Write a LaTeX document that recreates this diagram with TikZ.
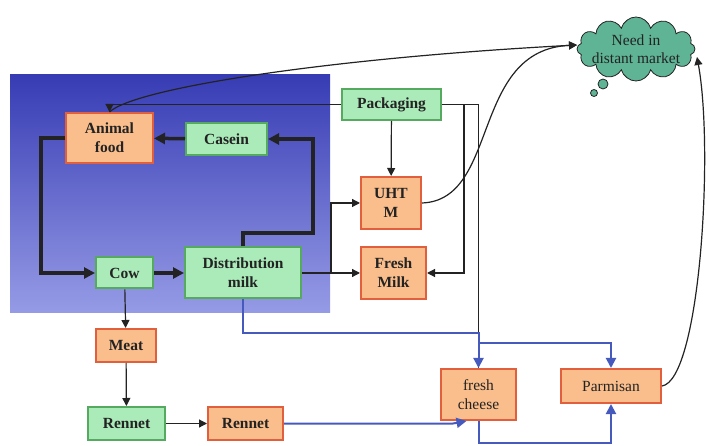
\documentclass[tikz,border=0pt]{standalone}
\usepackage{fontspec}
\setmainfont{Liberation Serif}
\usetikzlibrary{arrows.meta,shapes.symbols}
\definecolor{boxOrange}{RGB}{250,190,140}
\definecolor{boxOrangeLine}{RGB}{225,95,60}
\definecolor{boxGreen}{RGB}{170,235,185}
\definecolor{boxGreenLine}{RGB}{85,170,95}
\definecolor{panelTop}{RGB}{55,60,180}
\definecolor{panelBottom}{RGB}{150,155,230}
\definecolor{flowBlue}{RGB}{70,90,190}
\definecolor{cloudTeal}{RGB}{95,180,150}
\definecolor{ink}{RGB}{35,35,35}
\begin{document}
\begin{tikzpicture}[x=1pt,y=-1pt,
  basebox/.style={draw,line width=2pt,inner sep=0pt,align=center,text=ink,
    font=\fontsize{15.5}{19}\selectfont},
  obox/.style={basebox,fill=boxOrange,draw=boxOrangeLine},
  gbox/.style={basebox,fill=boxGreen,draw=boxGreenLine,font=\fontsize{15.5}{19}\selectfont\bfseries},
  thickflow/.style={ink,line width=3.5pt,-{Triangle[length=11pt,width=11pt]}},
  thinflow/.style={ink,line width=1.2pt,-{Triangle[length=8pt,width=8pt]}},
  thinline/.style={ink,line width=1.2pt},
  blueflow/.style={flowBlue,line width=2pt,-{Triangle[length=10pt,width=10pt]}},
  blueline/.style={flowBlue,line width=2pt}]
\useasboundingbox (0,0) rectangle (707,446);
\shade[top color=panelTop,bottom color=panelBottom] (10,75) rectangle (330,313);
% boxes
\node[obox,font=\fontsize{15.5}{19}\selectfont\bfseries,minimum width=87pt,minimum height=50pt] (afood) at (109.5,138) {Animal\\food};
\node[gbox,minimum width=81pt,minimum height=32pt] (casein) at (226.5,139) {Casein};
\node[gbox,minimum width=99pt,minimum height=31pt] (pack) at (391.5,104.5) {Packaging};
\node[obox,font=\fontsize{15.5}{19}\selectfont\bfseries,minimum width=60pt,minimum height=52pt] (uht) at (391,203) {UHT\\M};
\node[obox,font=\fontsize{15.5}{19}\selectfont\bfseries,minimum width=65pt,minimum height=52pt] (fmilk) at (393.5,273) {Fresh\\Milk};
\node[gbox,minimum width=57pt,minimum height=31pt] (cow) at (124.5,273) {Cow};
\node[gbox,minimum width=116pt,minimum height=51pt] (distr) at (243,273) {Distribution\\milk};
\node[obox,font=\fontsize{15.5}{19}\selectfont\bfseries,minimum width=60pt,minimum height=33pt] (meat) at (126,345.5) {Meat};
\node[gbox,minimum width=77pt,minimum height=33pt] (rennetg) at (126.5,423.5) {Rennet};
\node[obox,font=\fontsize{15.5}{19}\selectfont\bfseries,minimum width=75pt,minimum height=33pt] (renneto) at (245.5,423.5) {Rennet};
\node[obox,minimum width=75pt,minimum height=51pt] (fcheese) at (478.5,394.5) {fresh\\cheese};
\node[obox,minimum width=100pt,minimum height=34pt] (parm) at (611,386) {Parmisan};
% cloud
\node[cloud,cloud puffs=12,aspect=2,draw=ink,fill=cloudTeal,line width=0.8pt,
  minimum width=118pt,minimum height=64pt,
  label={[align=center,text=ink,font=\fontsize{15.5}{18}\selectfont]center:Need in\\distant market}] (market) at (636,49) {};
\node[circle,draw=ink,fill=cloudTeal,line width=0.8pt,minimum size=10pt,inner sep=0pt] (bubA) at (603,84) {};
\node[circle,draw=ink,fill=cloudTeal,line width=0.8pt,minimum size=7pt,inner sep=0pt] (bubB) at (594,93) {};
% loop inside the farm
\draw[thickflow] (afood.west) -- ++(-24,0) |- (cow.west);
\draw[thickflow] (cow) -- (distr);
\draw[thickflow] (distr.north) |- (313,233) |- (casein.east);
\draw[thickflow] (casein) -- (afood);
% meat branch
\draw[thinflow] (cow) -- (meat);
\draw[thinflow] (meat) -- (rennetg);
\draw[thinflow] (rennetg) -- (renneto);
% packaging
\draw[thinflow] (pack) -- (uht);
\draw[thinflow] (pack.east) -- ++(22,0) |- (fmilk.east);
\draw[thinline] (pack.east) -| (fcheese.north);
\draw[thinflow] (pack.west) -| (afood.north);
\draw[thinflow] (distr.east) -- ++(29,0) |- (uht.west);
\draw[thinflow] (distr.east) -- (fmilk.west);
% cheese lines
\coordinate (split) at (478.5,343);
\draw[blueflow] (distr.south) |- (478.5,333) -- (fcheese.north);
\draw[blueflow] (split) -| (parm.north);
\draw[blueflow] (fcheese.south) -- ++(0,22) -| (parm.south);
\draw[blueflow] (renneto.east) -- (453,423.5) -- ([xshift=-12pt]fcheese.south);
% to the market
\draw[thinflow] (afood.north) .. controls (135,88) and (330,58) .. (577,45);
\draw[thinflow] (uht.east) .. controls (500,200) and (470,50) .. (577,45);
\draw[thinflow] (parm.east) .. controls (700,380) and (714,150) .. (697,57);
\end{tikzpicture}
\end{document}
